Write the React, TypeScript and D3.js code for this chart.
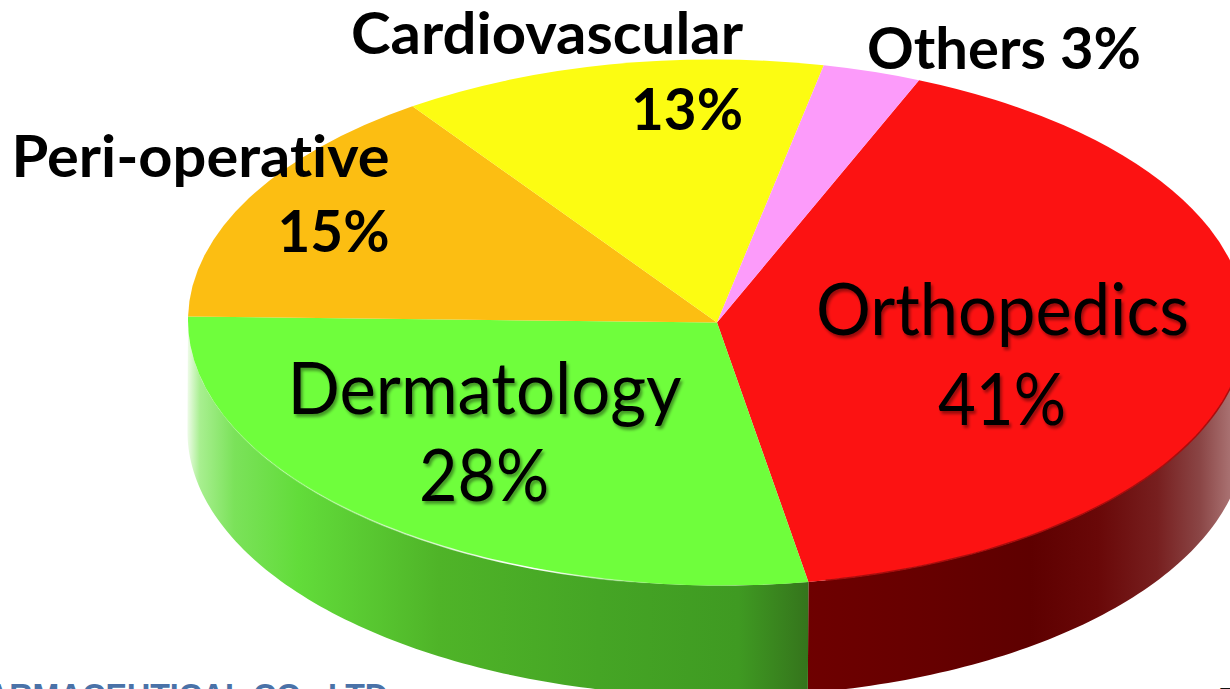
import * as d3 from "d3";

const categories = ["Orthopedics", "Dermatology", "Peri-operative", "Cardiovascular", "Others"];
const shares = [41, 28, 15, 13, 3];
const faceColors = ["#fc1212", "#6ffe3c", "#fcbe12", "#fcfc12", "#fc9bfa"];

const width = 1230;
const height = 689;
const cx = 717;
const cy = 322.5;
const rx = 529;
const ry = 263;
const depth = 111;
const tilt = 0.3;
const deg = Math.PI / 180;
const startAngle = 22.3 * deg;

const pie = d3.pie<number>().sort(null).startAngle(startAngle).endAngle(startAngle + 2 * Math.PI);
const arcs = pie(shares);
const arc = d3.arc<d3.PieArcDatum<number>>().innerRadius(0).outerRadius(rx);

// wall of the disc, only the front half (90deg to 270deg, clockwise from top) shows
const px = (a: number) => rx * Math.sin(a);
const py = (a: number) => -ry * Math.cos(a);
const wall = d3
  .area<number>()
  .x(px)
  .y0(py)
  .y1((a) => py(a) + depth);
const rim = d3.line<number>().x(px).y(py);

function wallPath(a0: number, a1: number) {
  const from = Math.max(a0, Math.PI / 2);
  const to = Math.min(a1, 1.5 * Math.PI);
  if (to <= from) return null;
  const n = Math.ceil((to - from) / deg);
  return wall(d3.range(n + 1).map((i) => from + ((to - from) * i) / n));
}

const redStops: [number, string][] = [[0, "#6e0000"], [0.3, "#660000"], [0.53, "#5e0000"], [0.69, "#690808"], [0.83, "#771f1f"], [0.93, "#8a4545"], [1, "#a87070"]];
const greenStops: [number, string][] = [[0, "#eefbe8"], [0.02, "#a8ef90"], [0.076, "#7be25a"], [0.18, "#62dc3a"], [0.406, "#4fb428"], [0.665, "#45a525"], [0.89, "#3f9a22"], [1, "#35751c"]];

const bold = { fontFamily: "Lato, sans-serif", fontWeight: 700, fontSize: 58, fill: "#000", textAnchor: "middle" as const, lengthAdjust: "spacingAndGlyphs" as const, style: { fontVariantLigatures: "none" } };
const regular = { fontFamily: "Lato, sans-serif", fontWeight: 400, fontSize: 71, fill: "#000", textAnchor: "middle" as const, lengthAdjust: "spacingAndGlyphs" as const, filter: "url(#textShadow)", style: { fontVariantLigatures: "none" } };

export default function App() {
  return (
    <svg width={width} height={height} viewBox={`0 0 ${width} ${height}`} style={{ position: "absolute", left: 0, top: 0, background: "#fff" }}>
      <defs>
        <linearGradient id="wall0" gradientUnits="userSpaceOnUse" x1={91} x2={513} y1={0} y2={0}>
          {redStops.map(([o, c]) => <stop key={o} offset={o} stopColor={c} />)}
        </linearGradient>
        <linearGradient id="wall1" gradientUnits="userSpaceOnUse" x1={-529} x2={91} y1={0} y2={0}>
          {greenStops.map(([o, c]) => <stop key={o} offset={o} stopColor={c} />)}
        </linearGradient>
        <linearGradient id="shine" gradientUnits="userSpaceOnUse" x1={-500} x2={-60} y1={0} y2={0}>
          <stop offset={0} stopColor="#fff" stopOpacity={0} />
          <stop offset={0.45} stopColor="#fff" stopOpacity={0.55} />
          <stop offset={0.72} stopColor="#fff" stopOpacity={1} />
          <stop offset={1} stopColor="#fff" stopOpacity={0} />
        </linearGradient>
        <filter id="textShadow" x="-5%" y="-5%" width="110%" height="115%">
          <feDropShadow dx="2" dy="3" stdDeviation="1.6" floodColor="#000" floodOpacity="0.4" />
        </filter>
      </defs>

      <text x={-14} y={707} fontFamily="Liberation Sans, Arial, sans-serif" fontWeight={700} fontSize={34} fill="#4a72a8" textLength={402} lengthAdjust="spacingAndGlyphs">
        ARMACEUTICAL CO., LTD
      </text>
      <text x={1220} y={708} fontFamily="Liberation Sans, Arial, sans-serif" fontWeight={700} fontSize={30} fill="#111">T</text>

      <g transform={`translate(${cx},${cy}) rotate(${tilt})`}>
        {arcs.map((d, i) => {
          const p = wallPath(d.startAngle, d.endAngle);
          return p && i < 2 ? <path key={i} d={p} fill={`url(#wall${i})`} /> : null;
        })}
        <g transform={`scale(1,${ry / rx})`}>
          {arcs.map((d, i) => (
            <path key={categories[i]} d={arc(d) ?? ""} fill={faceColors[i]} />
          ))}
        </g>
        <path d={rim(d3.range(95, 169).map((a) => a * deg)) ?? ""} fill="none" stroke="#a80c0c" strokeWidth={1.5} />
        <path d={rim(d3.range(172, 262).map((a) => a * deg)) ?? ""} fill="none" stroke="url(#shine)" strokeWidth={1.6} />
      </g>

      <text {...regular} x={1002.5} y={335} textLength={373}>{categories[0]}</text>
      <text {...regular} x={1002} y={425} textLength={128}>{shares[0]}%</text>
      <text {...regular} x={484.5} y={414} textLength={394}>{categories[1]}</text>
      <text {...regular} x={484} y={501} textLength={130}>{shares[1]}%</text>
      <text {...bold} x={200.5} y={177} textLength={378}>{categories[2]}</text>
      <text {...bold} x={333.5} y={252} textLength={112}>{shares[2]}%</text>
      <text {...bold} x={547} y={54} textLength={392}>{categories[3]}</text>
      <text {...bold} x={687} y={130} textLength={112}>{shares[3]}%</text>
      <text {...bold} x={1004} y={69} textLength={274}>{categories[4]} {shares[4]}%</text>
    </svg>
  );
}
